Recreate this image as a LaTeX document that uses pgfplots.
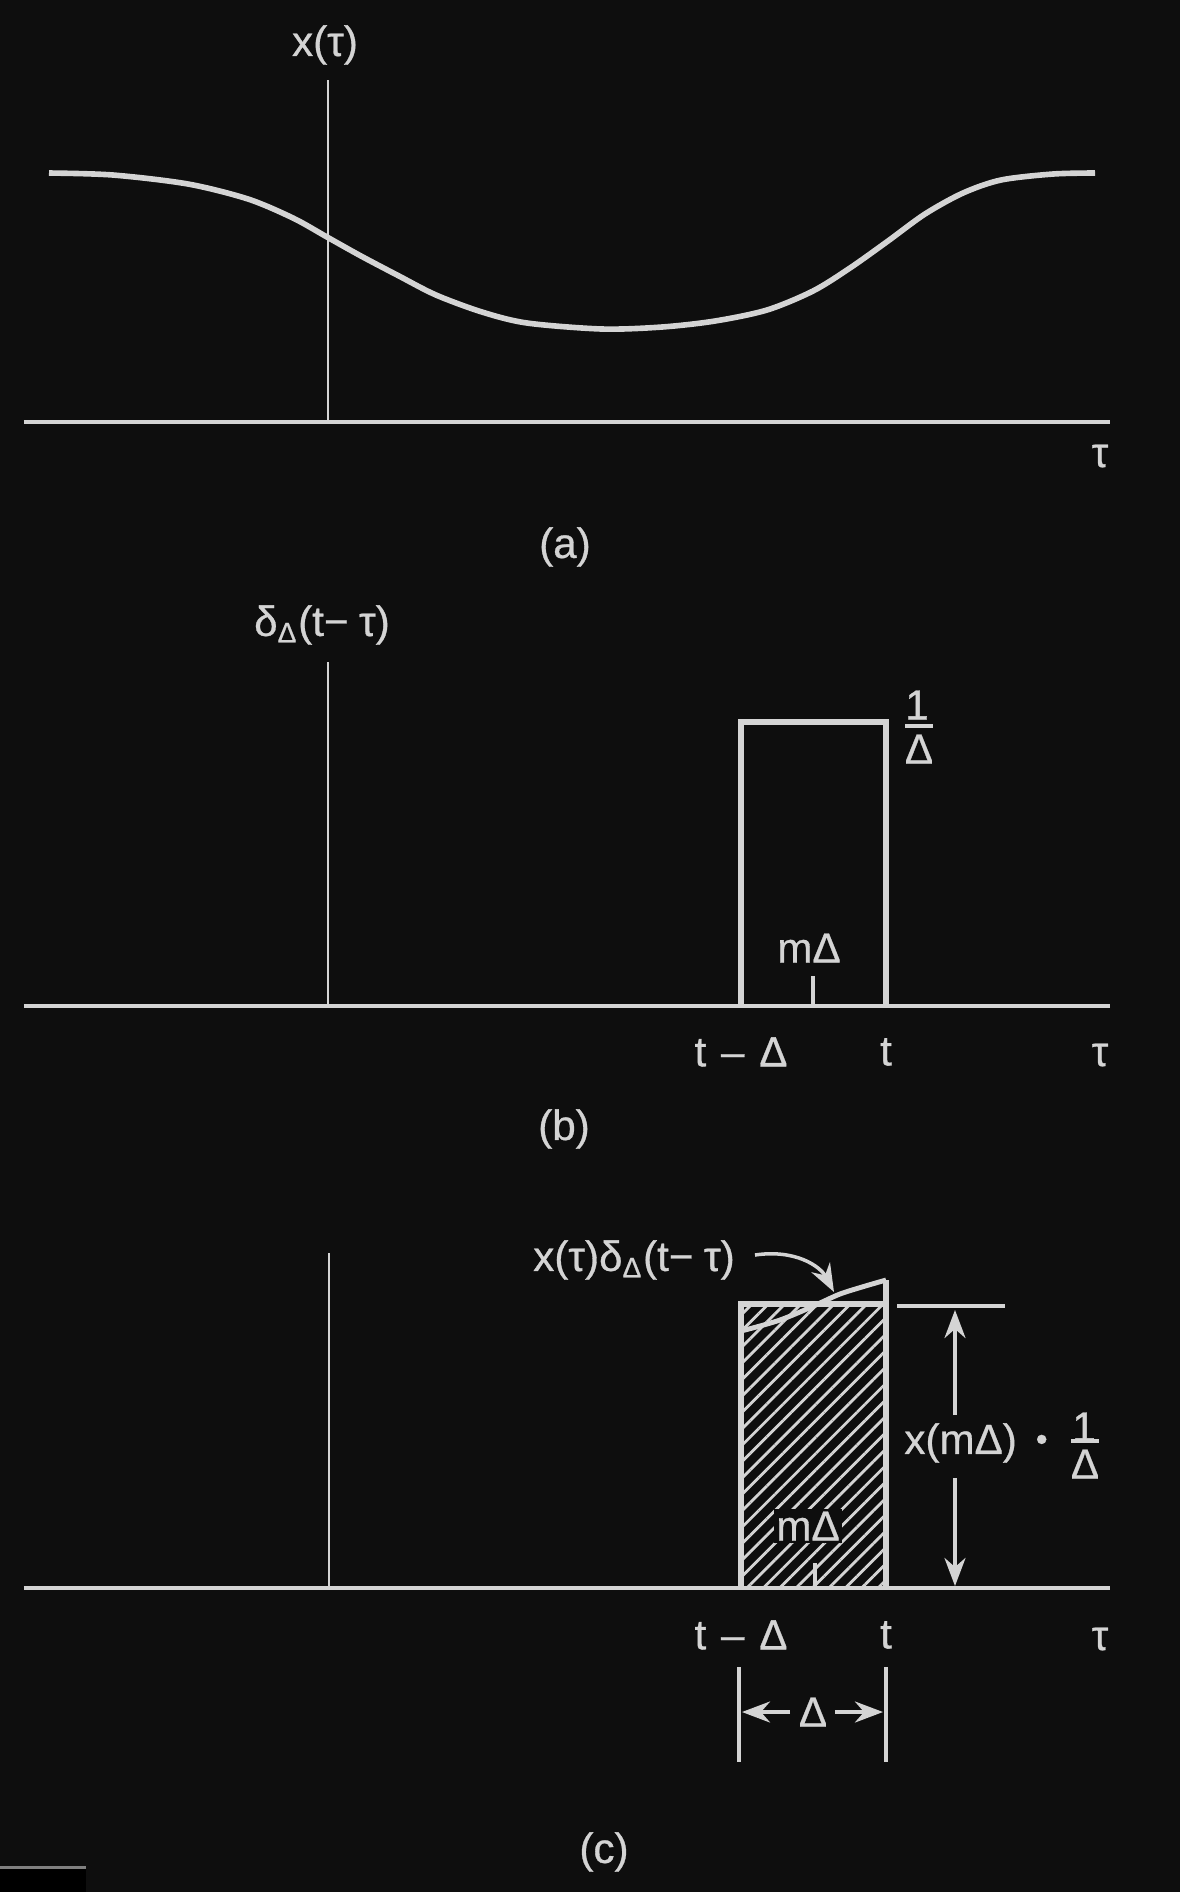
\documentclass[border=0pt]{standalone}
\usepackage{pgfplots}
\pgfplotsset{compat=1.18}
\usepackage{fontspec}
\setmainfont[FakeBold=0.7]{Liberation Sans}
\usetikzlibrary{arrows.meta,patterns.meta}
\definecolor{bgc}{HTML}{0E0E0E}
\definecolor{lc}{HTML}{D4D4D4}
\newcommand\lf{\fontsize{12}{14.4}\selectfont}
\tikzset{lbl/.style={text=lc, font=\lf, inner sep=0pt},
         arr/.style={-{Stealth[length=8pt,width=6pt]}}}
\begin{document}
\begin{tikzpicture}
\begin{axis}[
  width=11.8cm, height=18.92cm, scale only axis,
  xmin=0, xmax=1180, ymin=0, ymax=1892, y dir=reverse,
  hide axis, clip=false,
]
\fill[bgc] (rel axis cs:0,0) rectangle (rel axis cs:1,1);
\fill[black] (axis cs:0,1868) rectangle (axis cs:86,1892);
\fill[gray] (axis cs:0,1866) rectangle (axis cs:86,1869);

% ---------------- panel (a)
\addplot[lc, line width=1.1pt] coordinates {(24,422) (1110,422)};
\addplot[lc, line width=0.7pt] coordinates {(328,80) (328,422)};
\addplot[lc, line width=1.6pt, smooth] coordinates {
 (49,173) (113,175) (188,184) (248,199) (293,218) (327,237) (361,256)
 (399,276) (436,295) (482,312) (527,323) (602,329) (662,327) (715,321)
 (767,310) (813,291) (850,268) (888,241) (925,214) (963,193) (1001,180)
 (1053,174) (1095,173)};
\node[lbl] at (axis cs:325,45) {x(τ)};
\node[lbl] at (axis cs:1100,456) {τ};
\node[lbl] at (axis cs:565,547) {(a)};

% ---------------- panel (b)
\addplot[lc, line width=1.1pt] coordinates {(24,1006) (1110,1006)};
\addplot[lc, line width=0.7pt] coordinates {(328,662) (328,1006)};
\addplot[lc, line width=1.6pt] coordinates {(741,1006) (741,722) (886,722) (886,1006)};
\addplot[lc, line width=0.9pt] coordinates {(813,976) (813,1006)};
\node[lbl] at (axis cs:322,625) {δ\textsubscript{Δ}(t−\hspace{0.25em}τ)};
\node[lbl] at (axis cs:917,705) {1};
\addplot[lc, line width=0.9pt] coordinates {(905,726) (933,726)};
\node[lbl] at (axis cs:919,749) {Δ};
\node[lbl] at (axis cs:809,948) {mΔ};
\node[lbl] at (axis cs:741,1052) {t\hspace{0.35em}–\hspace{0.35em}Δ};
\node[lbl] at (axis cs:886,1052) {t};
\node[lbl] at (axis cs:1100,1055) {τ};
\node[lbl] at (axis cs:564,1129) {(b)};

% ---------------- panel (c)
\addplot[lc, line width=1.1pt] coordinates {(24,1588) (1110,1588)};
\addplot[lc, line width=0.7pt] coordinates {(329,1253) (329,1588)};
\addplot[draw=none, pattern={Lines[angle=45,distance=3.3pt,line width=0.8pt]}, pattern color=lc]
  coordinates {(741,1588) (741,1304) (886,1304) (886,1588)};
\addplot[lc, line width=0.9pt] coordinates {(815,1563) (815,1588)};
\node[lbl, fill=bgc, inner sep=0.6pt] at (axis cs:808,1526) {mΔ};
\addplot[lc, line width=1.4pt, smooth] coordinates {
 (741,1331) (760,1326) (780,1320) (800,1312) (820,1303) (840,1294) (862,1287) (886,1280)};
\addplot[lc, line width=1.6pt] coordinates {(741,1588) (741,1304) (886,1304)};
\addplot[lc, line width=1.6pt] coordinates {(886,1280) (886,1588)};
\addplot[lc, line width=1.1pt] coordinates {(897,1306) (1005,1306)};
\addplot[lc, line width=0.9pt, arr] coordinates {(955,1415) (955,1310)};
\addplot[lc, line width=0.9pt, arr] coordinates {(955,1478) (955,1586)};
\node[lbl] at (axis cs:976,1443) {x(mΔ)\hspace{0.45em}\raisebox{0.15ex}{\scalebox{0.8}{\textbullet}}};
\node[lbl] at (axis cs:1084,1427) {1};
\addplot[lc, line width=0.9pt] coordinates {(1071,1441) (1099,1441)};
\node[lbl] at (axis cs:1085,1464) {Δ};
\node[lbl] at (axis cs:634,1260) {x(τ)δ\textsubscript{Δ}(t−\hspace{0.25em}τ)};
\draw[lc, line width=1pt, arr] (axis cs:755,1255) .. controls (axis cs:795,1249) and (axis cs:820,1266) .. (axis cs:834,1292);
\node[lbl] at (axis cs:741,1635) {t\hspace{0.35em}–\hspace{0.35em}Δ};
\node[lbl] at (axis cs:886,1635) {t};
\node[lbl] at (axis cs:1100,1639) {τ};
\addplot[lc, line width=0.9pt] coordinates {(739,1667) (739,1762)};
\addplot[lc, line width=0.9pt] coordinates {(886,1667) (886,1762)};
\addplot[lc, line width=0.9pt, arr] coordinates {(790,1712) (742,1712)};
\addplot[lc, line width=0.9pt, arr] coordinates {(835,1712) (883,1712)};
\node[lbl] at (axis cs:813,1712) {Δ};
\node[lbl] at (axis cs:604,1852) {(c)};
\end{axis}
\end{tikzpicture}
\end{document}
